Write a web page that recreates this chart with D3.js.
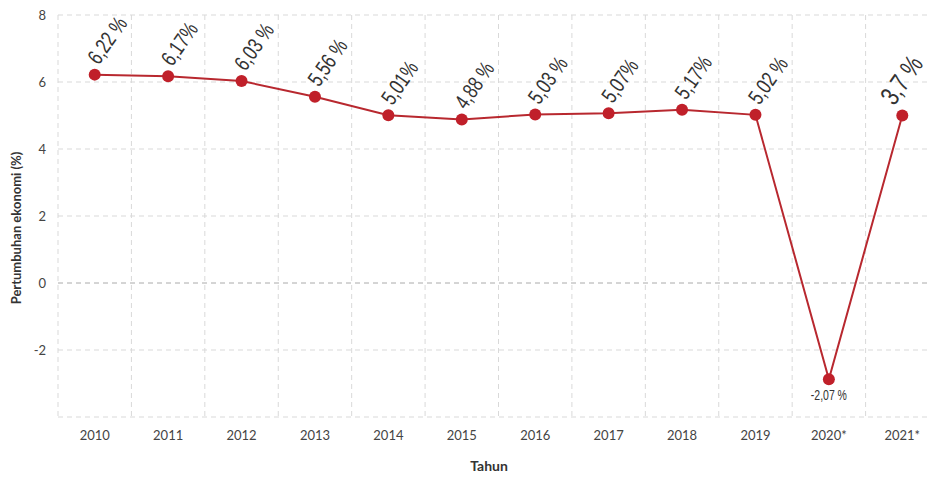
<!DOCTYPE html>
<html>
<head>
<meta charset="utf-8">
<script src="https://cdn.jsdelivr.net/npm/d3@7"></script>
<style>
  body { margin: 0; background: #fff; }
  svg { display: block; }
  .tick text { font-family: Lato, sans-serif; font-size: 13px; fill: #444; }
  .val { font-family: "Liberation Sans", Arial, sans-serif; fill: #333; }
</style>
</head>
<body>
<svg width="930" height="477"></svg>
<script>
// data
var years = ["2010", "2011", "2012", "2013", "2014", "2015", "2016", "2017", "2018", "2019", "2020*", "2021*"];
var growth = [6.22, 6.17, 6.03, 5.56, 5.01, 4.88, 5.03, 5.07, 5.17, 5.02, -2.87, 5.0];
var labels = ["6,22 %", "6,17%", "6,03 %", "5,56 %", "5,01%", "4,88 %", "5,03 %", "5,07%", "5,17%", "5,02 %", "-2,07 %", "3,7 %"];
var yTicks = [-2, 0, 2, 4, 6, 8];

var svg = d3.select("svg"),
    plotL = 58, plotR = 939, plotT = 15, plotB = 417;

var x = d3.scaleBand().domain(years).range([plotL, plotR]);
var y = d3.scaleLinear().domain([-4, 8]).range([plotB, plotT]);

// grid
var grid = svg.append("g").attr("stroke", "#d9d9d9").attr("stroke-dasharray", "5,4");
grid.selectAll(".v")
    .data(years.concat(["end"]))
    .enter().append("line")
    .attr("x1", function(d, i) { return plotL + i * x.bandwidth(); })
    .attr("x2", function(d, i) { return plotL + i * x.bandwidth(); })
    .attr("y1", plotT).attr("y2", plotB);
grid.selectAll(".h")
    .data([-4].concat(yTicks))
    .enter().append("line")
    .attr("x1", plotL).attr("x2", plotR)
    .attr("y1", function(d) { return y(d); })
    .attr("y2", function(d) { return y(d); })
    .attr("stroke", function(d) { return d == 0 ? "#aaa" : "#d9d9d9"; });

// axes
var yAxis = svg.append("g")
    .attr("transform", "translate(" + plotL + ",0)")
    .call(d3.axisLeft(y).tickValues(yTicks).tickSize(0).tickPadding(12)
            .tickFormat(function(d) { return String(d); }));
yAxis.select(".domain").remove();

var xAxis = svg.append("g")
    .attr("transform", "translate(0," + plotB + ")")
    .call(d3.axisBottom(x).tickSize(0).tickPadding(14));
xAxis.select(".domain").remove();

svg.append("text")
   .attr("transform", "translate(21,228) rotate(-90)")
   .attr("text-anchor", "middle")
   .style("font-family", "Lato, sans-serif")
   .style("font-size", "13px")
   .style("font-weight", "bold")
   .style("fill", "#333")
   .text("Pertumbuhan ekonomi (%)");

svg.append("text")
   .attr("x", 489).attr("y", 471)
   .attr("text-anchor", "middle")
   .style("font-family", "Lato, sans-serif")
   .style("font-size", "14px")
   .style("font-weight", "bold")
   .style("fill", "#333")
   .text("Tahun");

// line + points
var cx = function(d, i) { return x(years[i]) + x.bandwidth() / 2; };

var line = d3.line()
    .x(function(d, i) { return cx(d, i); })
    .y(function(d) { return y(d); });

svg.append("path")
   .datum(growth)
   .attr("d", line)
   .attr("fill", "none")
   .attr("stroke", "#b8282f")
   .attr("stroke-width", 2);

svg.selectAll(".dot")
   .data(growth)
   .enter().append("circle")
   .attr("cx", cx)
   .attr("cy", function(d) { return y(d); })
   .attr("r", 6)
   .attr("fill", "#c0202a");

// value labels (condensed look via horizontal scale)
svg.selectAll(".val")
   .data(growth)
   .enter().append("text")
   .attr("class", "val")
   .attr("transform", function(d, i) {
       if (d < 0) return "translate(" + cx(d, i) + "," + (y(d) + 21) + ") scale(0.75,1)";
       var dx = i == 11 ? -8 : 4;
       return "translate(" + (cx(d, i) + dx) + "," + (y(d) - 9) + ") rotate(-55) scale(0.75,1)";
   })
   .attr("text-anchor", function(d) { return d < 0 ? "middle" : "start"; })
   .style("font-size", function(d, i) { return d < 0 ? "14px" : (i == 11 ? "27px" : "22px"); })
   .text(function(d, i) { return labels[i]; });
</script>
</body>
</html>
